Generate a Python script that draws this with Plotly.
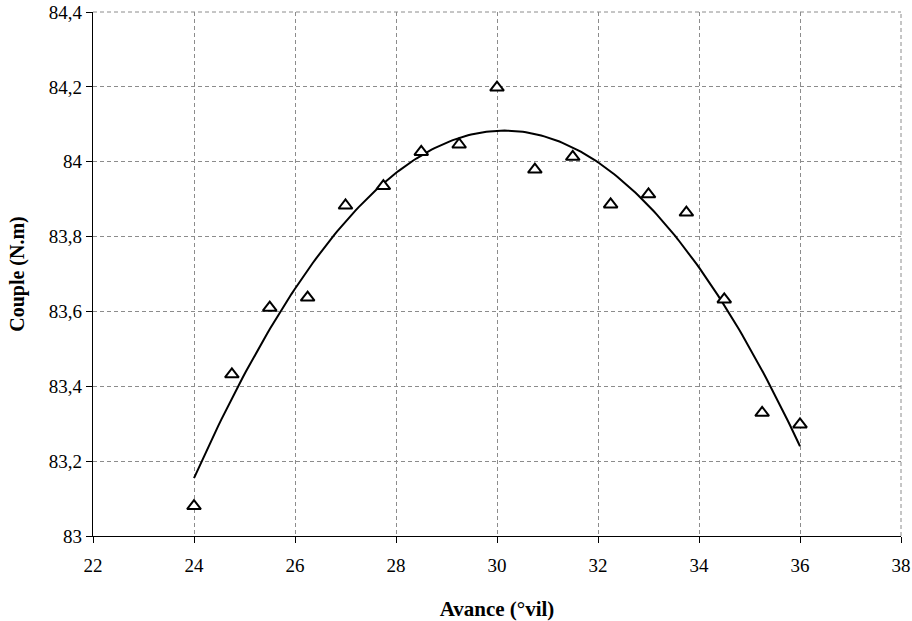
import numpy as np
import plotly.graph_objects as go

# Data
avance = [24, 24.75, 25.5, 26.25, 27, 27.75, 28.5, 29.25, 30,
          30.75, 31.5, 32.25, 33, 33.75, 34.5, 35.25, 36]
couple = [83.08, 83.432, 83.61, 83.637, 83.883, 83.935, 84.026, 84.046, 84.198,
          83.979, 84.013, 83.886, 83.913, 83.864, 83.632, 83.329, 83.298]

x_ticks = [22, 24, 26, 28, 30, 32, 34, 36, 38]
x_ticktext = ["22", "24", "26", "28", "30", "32", "34", "36", "38"]
y_ticks = [83, 83.2, 83.4, 83.6, 83.8, 84, 84.2, 84.4]
y_ticktext = ["83", "83,2", "83,4", "83,6", "83,8", "84", "84,2", "84,4"]

# Polynomial (order 2) trend line fitted to the data, as in the original
coef = np.polyfit(avance, couple, 2)
xt = np.linspace(min(avance), max(avance), 200)
yt = np.polyval(coef, xt)

font_family = "Liberation Serif, DejaVu Serif, serif"
GRID_COLOR = "#8c8c8c"
GRID_DASH = "4px,3px"
grid = dict(showgrid=True, gridcolor=GRID_COLOR, gridwidth=1, griddash=GRID_DASH)

fig = go.Figure()
fig.add_trace(go.Scatter(
    x=xt, y=yt, mode="lines",
    line=dict(color="black", width=2),
    showlegend=False, hoverinfo="skip",
))
fig.add_trace(go.Scatter(
    x=avance, y=couple, mode="markers",
    marker=dict(symbol="triangle-up", size=12, color="white",
                line=dict(color="black", width=2)),
    showlegend=False,
))

# dashed grid lines along the top and right edges of the plot area
edge = dict(color=GRID_COLOR, width=1, dash=GRID_DASH)
fig.add_shape(type="line", xref="paper", yref="paper", x0=0, x1=1, y0=1, y1=1,
              line=edge, layer="below")
fig.add_shape(type="line", xref="paper", yref="paper", x0=1, x1=1, y0=0, y1=1,
              line=edge, layer="below")

fig.update_layout(
    width=912, height=621,
    margin=dict(l=92.5, r=11, t=12, b=84.5),
    paper_bgcolor="white", plot_bgcolor="white",
    font=dict(family=font_family, size=19, color="black"),
    xaxis=dict(
        range=[22, 38], tickvals=x_ticks, ticktext=x_ticktext,
        showline=True, linecolor="black", linewidth=1.2,
        ticks="outside", ticklen=6, tickcolor="black", tickwidth=1.2,
        ticklabelstandoff=6, ticklabeloverflow="allow",
        zeroline=False, automargin=False,
        title=dict(text="<b>Avance (°vil)</b>", font=dict(size=21), standoff=26),
        **grid,
    ),
    yaxis=dict(
        range=[83, 84.4], tickvals=y_ticks, ticktext=y_ticktext,
        showline=True, linecolor="black", linewidth=1.2,
        ticks="outside", ticklen=6, tickcolor="black", tickwidth=1.2,
        ticklabeloverflow="allow",
        zeroline=False, automargin=False,
        title=dict(text="<b>Couple (N.m)</b>", font=dict(size=20), standoff=18),
        **grid,
    ),
)

fig.write_html(
    "out.html",
    config={"displayModeBar": False},
    post_script="document.body.style.margin='0';document.body.style.overflow='hidden';",
)
